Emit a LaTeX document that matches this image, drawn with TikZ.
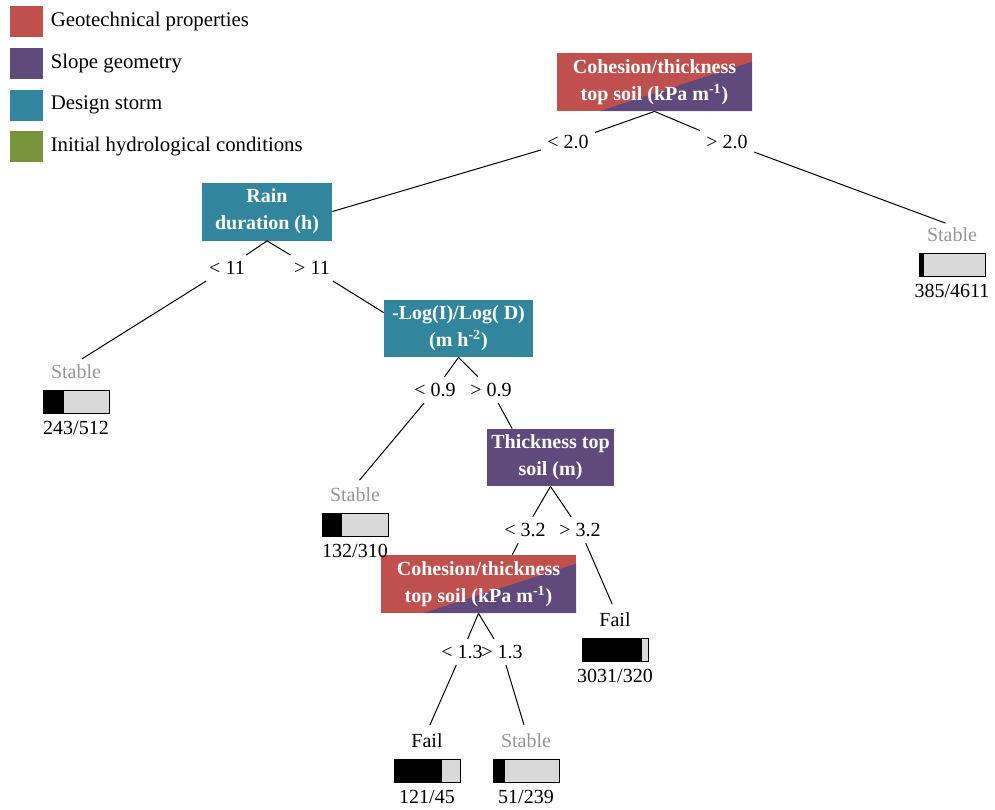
\documentclass[tikz,border=0pt]{standalone}
\usepackage{fontspec}
\setmainfont{Liberation Serif}
\usepackage{tikz}
\usetikzlibrary{positioning, calc}
\definecolor{geotech}{RGB}{192, 80, 77}
\definecolor{slopegeom}{RGB}{96, 74, 123}
\definecolor{storm}{RGB}{49, 133, 156}
\definecolor{inithydro}{RGB}{119, 147, 60}
\definecolor{barfill}{RGB}{217, 217, 217}
\definecolor{stablegray}{RGB}{150, 150, 150}

\begin{document}
\begin{tikzpicture}[
    x=0.5pt, y=-0.5pt,
    font=\fontsize{10}{13.5}\selectfont,
    varbox/.style={rectangle, minimum height=29pt, inner sep=2pt, align=center, text=white, font=\fontsize{10}{13.5}\selectfont\bfseries},
    cohbox/.style={varbox, fill=geotech, path picture={
        \fill[slopegeom] ($(path picture bounding box.south west)!0.22!(path picture bounding box.south east)$)
            -- (path picture bounding box.south east)
            -- ($(path picture bounding box.north east)!0.15!(path picture bounding box.south east)$) -- cycle;}},
    legsq/.style={rectangle, minimum width=16.5pt, minimum height=15.5pt, inner sep=0pt},
    legtext/.style={inner sep=1pt, font=\fontsize{10.4}{12}\selectfont},
    cut/.style={inner sep=3pt},
    leaf/.style={inner sep=1pt},
    bar/.style={draw, line width=0.4pt, fill=barfill, minimum width=33pt, minimum height=11.5pt, inner sep=0pt,
        path picture={\fill[black] (path picture bounding box.south west) rectangle ([xshift=#1*33pt]path picture bounding box.north west);}},
    branch/.style={line width=0.5pt},
    toleaf/.style={branch, shorten >=3.5pt}
]
    \useasboundingbox (0,0) rectangle (995,809);

    % legend
    \node[legsq, fill=geotech] (lgGeo) at (26.5,21.5) {};
    \node[legsq, fill=slopegeom, below=5pt of lgGeo] (lgSlope) {};
    \node[legsq, fill=storm, below=5pt of lgSlope] (lgStorm) {};
    \node[legsq, fill=inithydro, below=5pt of lgStorm] (lgInit) {};
    \node[legtext, right=2.5pt of lgGeo] (txGeo) {Geotechnical properties};
    \node[legtext, right=2.5pt of lgSlope] (txSlope) {Slope geometry};
    \node[legtext, right=2.5pt of lgStorm] (txStorm) {Design storm};
    \node[legtext, right=2.5pt of lgInit] (txInit) {Initial hydrological conditions};

    % split variables
    \node[cohbox, minimum width=97.5pt] (coh1) at (654.5,82) {Cohesion/thickness\\top soil (kPa m\textsuperscript{-1})};
    \node[varbox, fill=storm, minimum width=65pt] (rain) at (267,211.5) {Rain\\duration (h)};
    \node[varbox, fill=storm, minimum width=74.5pt, minimum height=28.5pt] (logid) at (458.5,328.5) {-Log(I)/Log( D)\\(m h\textsuperscript{-2})};
    \node[varbox, fill=slopegeom, minimum width=63.5pt, minimum height=28.5pt] (thick) at (550.5,457.5) {Thickness top\\soil (m)};
    \node[cohbox, minimum width=97.5pt] (coh2) at (478.5,584) {Cohesion/thickness\\top soil (kPa m\textsuperscript{-1})};

    % thresholds
    \node[cut] (lt20) at (568,142) {< 2.0};
    \node[cut] (gt20) at (727,142) {> 2.0};
    \node[cut] (lt11) at (227,268) {< 11};
    \node[cut] (gt11) at (312,268) {> 11};
    \node[cut] (lt09) at (435,390) {< 0.9};
    \node[cut] (gt09) at (491,390) {> 0.9};
    \node[cut] (lt32) at (525,530) {< 3.2};
    \node[cut] (gt32) at (580,530) {> 3.2};
    \node[cut] (lt13) at (462,652) {< 1.3};
    \node[cut] (gt13) at (502,652) {> 1.3};

    % leaves
    \node[leaf, text=stablegray] (stR) at (952,235) {Stable};
    \node[bar=0.077, below=4.5pt of stR] (barR) {};
    \node[leaf, below=2.2pt of barR] (numR) {385/4611};

    \node[leaf, text=stablegray] (st1) at (76,372) {Stable};
    \node[bar=0.322, below=4.5pt of st1] (bar1) {};
    \node[leaf, below=2.2pt of bar1] (num1) {243/512};

    \node[leaf, text=stablegray] (st3) at (355,495) {Stable};
    \node[bar=0.299, below=4.5pt of st3] (bar3) {};
    \node[leaf, below=2.2pt of bar3] (num3) {132/310};

    \node[leaf] (fl1) at (615,620) {Fail};
    \node[bar=0.905, below=4.5pt of fl1] (barF1) {};
    \node[leaf, below=2.2pt of barF1] (numF1) {3031/320};

    \node[leaf] (fl2) at (427,741) {Fail};
    \node[bar=0.729, below=4.5pt of fl2] (barF2) {};
    \node[leaf, below=2.2pt of barF2] (numF2) {121/45};

    \node[leaf, text=stablegray] (st5) at (526,741) {Stable};
    \node[bar=0.176, below=4.5pt of st5] (bar5) {};
    \node[leaf, below=2.2pt of bar5] (num5) {51/239};

    % branches
    \draw[branch] (coh1.south) -- (lt20);
    \draw[branch] (lt20) -- (rain.east);
    \draw[branch] (coh1.south) -- (gt20);
    \draw[toleaf] (gt20) -- (stR.north);
    \draw[branch] (rain.south) -- (lt11);
    \draw[toleaf] (lt11) -- (st1.north);
    \draw[branch] (rain.south) -- (gt11);
    \draw[branch] (gt11) -- (logid.168);
    \draw[branch] (logid.south) -- (lt09);
    \draw[toleaf] (lt09) -- (st3.north);
    \draw[branch] (logid.south) -- (gt09);
    \draw[branch] (gt09) -- (thick.143);
    \draw[branch] (thick.south) -- (lt32);
    \draw[branch] (lt32) -- (coh2.41);
    \draw[branch] (thick.south) -- (gt32);
    \draw[toleaf] (gt32) -- (fl1.north);
    \draw[branch] (coh2.south) -- (lt13);
    \draw[toleaf] (lt13) -- (fl2.north);
    \draw[branch] (coh2.south) -- (gt13);
    \draw[toleaf] (gt13) -- (st5.north);
\end{tikzpicture}
\end{document}
